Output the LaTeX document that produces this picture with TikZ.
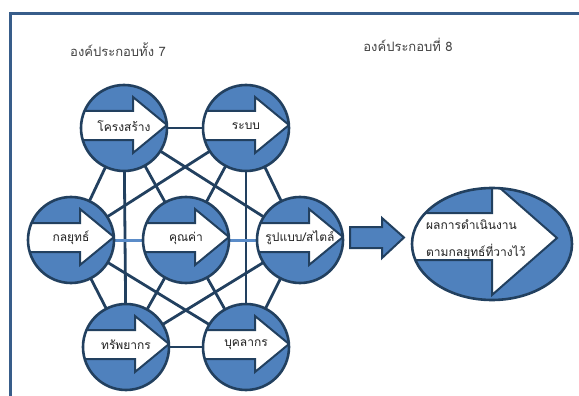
\documentclass[tikz,border=0pt]{standalone}
\usepackage{fontspec}
\newfontfamily\thai[Script=Thai]{Loma}
\usetikzlibrary{calc,shapes.geometric}
\pgfdeclarelayer{bg}
\pgfsetlayers{bg,main}
\definecolor{navy}{HTML}{22405F}
\definecolor{bfill}{HTML}{4F81BD}
\definecolor{lblue}{HTML}{5B8CC8}
\definecolor{framec}{HTML}{385D8A}
\definecolor{txt}{HTML}{202020}
\tikzset{
  bub/.style={circle,fill=bfill,minimum size=86pt,inner sep=0pt},
  bubline/.style={draw=navy,line width=2.6pt},
  arrw/.style={fill=white,draw=navy,line width=2pt,line join=miter},
  lbl/.style={font=\thai\fontsize{12}{14}\selectfont,text=txt,inner sep=0pt},
  ttl/.style={font=\thai\fontsize{13}{15}\selectfont,text=txt!85,inner sep=0pt},
  conn/.style={draw=navy,line width=2.8pt},
  lconn/.style={draw=lblue,line width=3pt},
}
\newcommand\bubble[4]{%
  \node[bub] (#1) at (#2,#3) {};
  \begin{scope}[shift={(#2,#3)}]
    \clip (0,0) circle[radius=43pt];
    \draw[arrw] (-60,-17) -- (9,-17) -- (9,-31) -- (43,-3) -- (9,25) -- (9,12) -- (-60,12) -- cycle;
  \end{scope}
  \draw[bubline] (#1.center) circle[radius=43pt];
  \node[lbl] at ($(#1.center)+(0,-2)$) {#4};
}
\begin{document}
\begin{tikzpicture}[x=1pt,y=-1pt]
\useasboundingbox (0,0) rectangle (579,396);
% frame
\draw[draw=framec,line width=3pt] (10,398) -- (10,13.5) -- (581,13.5);
% titles
\node[ttl] (t7) at (118,50) {องค์ประกอบทั้ง 7};
\node[ttl] (t8) at (408,45) {องค์ประกอบที่ 8};
% bubbles
\bubble{S}{124}{128}{โครงสร้าง}
\bubble{R}{246}{128}{ระบบ}
\bubble{K}{71}{240}{กลยุทธ์}
\bubble{Q}{186}{240}{คุณค่า}
\bubble{P}{300}{240}{รูปแบบ/สไตล์}
\bubble{T}{126}{347}{ทรัพยากร}
\bubble{B}{246}{347}{บุคลากร}
% connectors
\begin{pgfonlayer}{bg}
\foreach \a/\b in {S/R,S/K,S/T,S/Q,S/P,R/K,R/Q,R/B,R/P,K/T,K/B,Q/T,Q/B,P/T,P/B,T/B}
  \draw[conn] (\a.center) -- (\b.center);
\draw[lconn] (K.center) -- (Q.center);
\draw[lconn] (Q.center) -- (P.center);
\end{pgfonlayer}
% big block arrow
\draw[fill=bfill,draw=navy,line width=2pt,line join=miter]
  (350,227) -- (382,227) -- (382,218) -- (404,237.5) -- (382,258) -- (382,248) -- (350,248) -- cycle;
% result ellipse
\node[ellipse,fill=bfill,minimum width=160pt,minimum height=112pt,inner sep=0pt] (E) at (492,244) {};
\begin{scope}[shift={(492,244)}]
  \clip (0,0) ellipse[x radius=80pt,y radius=56pt];
  \draw[arrw] (-100,-31) -- (0,-31) -- (0,-63) -- (65,-6) -- (0,51) -- (0,16) -- (-100,16) -- cycle;
\end{scope}
\draw[bubline] (E.center) ellipse[x radius=80pt,y radius=56pt];
\node[lbl,anchor=west] (e1) at (426,225) {ผลการดำเนินงาน};
\node[lbl,anchor=west] (e2) at (426,252) {ตามกลยุทธ์ที่วางไว้};
\end{tikzpicture}
\end{document}
